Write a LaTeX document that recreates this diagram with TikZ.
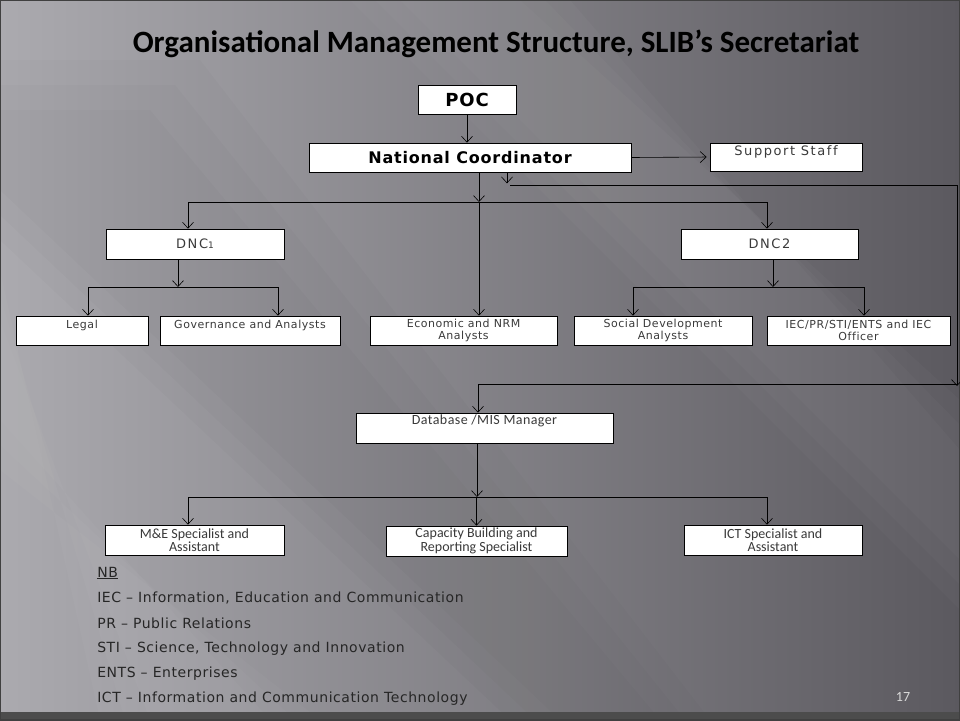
\documentclass[tikz,border=0pt]{standalone}
\usepackage{fontspec}
\setmainfont{Carlito}
\newfontfamily\widefont[LetterSpace=5, Ligatures=NoCommon]{DejaVu Sans}
\newfontfamily\headfont[LetterSpace=5]{DejaVu Sans}
\usetikzlibrary{arrows.meta}

\definecolor{bgleft}{HTML}{ABAAAF}
\definecolor{bgright}{HTML}{5B595F}
\definecolor{boxtext}{HTML}{3A3A3A}

\tikzset{
  unit/.style={draw=black, fill=white, line width=0.7pt, inner sep=2pt, align=center,
    text=boxtext, font=\widefont\fontsize{11}{12.5}\selectfont},
  head/.style={unit, text=black, font=\headfont\bfseries\fontsize{16}{18}\selectfont},
  upper/.style={text height=8pt, text depth=12pt},
  note/.style={anchor=west, inner sep=0pt, text=black!85,
    font=\widefont\addfontfeatures{LetterSpace=4}\fontsize{14}{16}\selectfont}
}

\begin{document}
\begin{tikzpicture}[x=1pt, y=-1pt, >={Straight Barb[length=6pt,width=11pt]}, line width=0.6pt]

\useasboundingbox (0,0) rectangle (960,720);

% background of the slide
\shade[left color=bgleft, right color=bgright] (0,0) rectangle (960,720);
\foreach \d in {0,25,50}{
  \fill[white, opacity=0.025] (400-\d,0) -- (520+\d,0) -- (960,400+\d) -- (960,560+\d) -- cycle;
  \fill[white, opacity=0.025] (0,320-\d) -- (0,420+\d) -- (270+\d,720) -- (150-\d,720) -- cycle;
  \fill[black, opacity=0.015] (0,110-\d) -- (0,190+\d) -- (560-\d,720) -- (660+\d,720) -- (150+\d,110-\d) -- cycle;
}
\fill[black!70] (0,712) rectangle (960,720);
\draw[black!75, line width=2pt] (0,0) rectangle (960,720);

\node[font=\bfseries\fontsize{31}{34}\selectfont] (title) at (496,44)
  {Organisational Management Structure, SLIB’s Secretariat};

% top of the structure
\node[head, minimum width=98, minimum height=29, font=\headfont\bfseries\fontsize{18}{20}\selectfont]
  (poc) at (467,99.5) {POC};
\node[head, minimum width=322, minimum height=29] (nc) at (470,157.5) {National Coordinator};
\node[unit, upper, minimum width=152, minimum height=28,
  font=\widefont\addfontfeatures{LetterSpace=12}\fontsize{13}{15}\selectfont] (support) at (786,157)
  {Support Staff};

\node[unit, minimum width=178, minimum height=30,
  font=\widefont\addfontfeatures{LetterSpace=12}\fontsize{13}{15}\selectfont] (dnc1) at (195,244)
  {DNC{\fontsize{9}{10}\selectfont 1}};
\node[unit, minimum width=177, minimum height=30,
  font=\widefont\addfontfeatures{LetterSpace=12}\fontsize{13}{15}\selectfont] (dnc2) at (769.5,244)
  {DNC2};

% analysts
\node[unit, upper, minimum width=132, minimum height=29] (legal) at (82,330.5) {Legal};
\node[unit, upper, minimum width=180, minimum height=29] (gov) at (250,330.5) {Governance and Analysts};
\node[unit, minimum width=187, minimum height=29] (econ) at (463.5,330.5) {Economic and NRM\\Analysts};
\node[unit, minimum width=178, minimum height=29] (social) at (663,330.5) {Social Development\\Analysts};
\node[unit, minimum width=183, minimum height=29] (iec) at (858.5,330.5) {IEC/PR/STI/ENTS and IEC\\Officer};

% database and specialists
\node[unit, minimum width=257, minimum height=30, text height=9pt, text depth=17pt,
  font=\addfontfeatures{LetterSpace=3}\fontsize{14}{15}\selectfont] (db) at (484.5,428)
  {Database /MIS Manager};
\node[unit, minimum width=179, minimum height=30, font=\fontsize{14}{13.5}\selectfont] (me) at (194.5,540)
  {M\&E Specialist and\\Assistant};
\node[unit, minimum width=181, minimum height=30, font=\fontsize{14}{13.5}\selectfont] (cap) at (476.5,541)
  {Capacity Building and\\Reporting Specialist};
\node[unit, minimum width=178, minimum height=30, font=\fontsize{14}{13.5}\selectfont] (ict) at (773,540)
  {ICT Specialist and\\Assistant};

\coordinate (bus-nc) at (479,202);
\coordinate (bus-d1) at (178,287);
\coordinate (bus-d2) at (773,287);
\coordinate (bus-db) at (477,497);
\coordinate (loop-a) at (507,185);
\coordinate (loop-b) at (957,384);

\draw [->] (poc.south) -- (nc.north -| poc.south);
\draw [->, shorten >=3pt] (nc.east) -- (support.west);

\draw [->] (nc.south -| bus-nc) -- (bus-nc);
\draw [->] (bus-nc) -- (econ.north -| bus-nc);
\draw [->] (bus-nc) -| ([xshift=-7pt]dnc1.north);
\draw [->] (bus-nc) -| ([xshift=-2.5pt]dnc2.north);

\draw [->] ([xshift=-17pt]dnc1.south) -- (bus-d1);
\draw [->] (bus-d1) -| ([xshift=6pt]legal.north);
\draw [->] (bus-d1) -| ([xshift=28pt]gov.north);

\draw [->] ([xshift=3.5pt]dnc2.south) -- (bus-d2);
\draw [->] (bus-d2) -| ([xshift=-30pt]social.north);
\draw [->] (bus-d2) -| ([xshift=5.5pt]iec.north);

% national coordinator down to the database
\draw [->] (nc.south -| loop-a) -- ++(0,11);
\draw [->] ([xshift=3pt]loop-a) -| ([yshift=-2pt]loop-b);
\draw [->] (loop-b) -| ([xshift=-6.5pt]db.north);

\draw [->] ([xshift=-7.5pt]db.south) -- (bus-db);
\foreach \n/\s in {me/-6.5, cap/0, ict/-6}
  \draw [->] (bus-db) -| ([xshift=\s pt]\n.north);

% legend
\node[note] (nb) at (97,573) {\underline{NB}};
\foreach \t [count=\i] in {{IEC – Information, Education and Communication},
    PR – Public Relations, {STI – Science, Technology and Innovation},
    ENTS – Enterprises, ICT – Information and Communication Technology}
  \node[note] (note-\i) at (97,573+25.2*\i) {\t};

\node[text=black!15, font=\fontsize{14}{16}\selectfont] (page) at (903,697) {17};

\end{tikzpicture}
\end{document}
